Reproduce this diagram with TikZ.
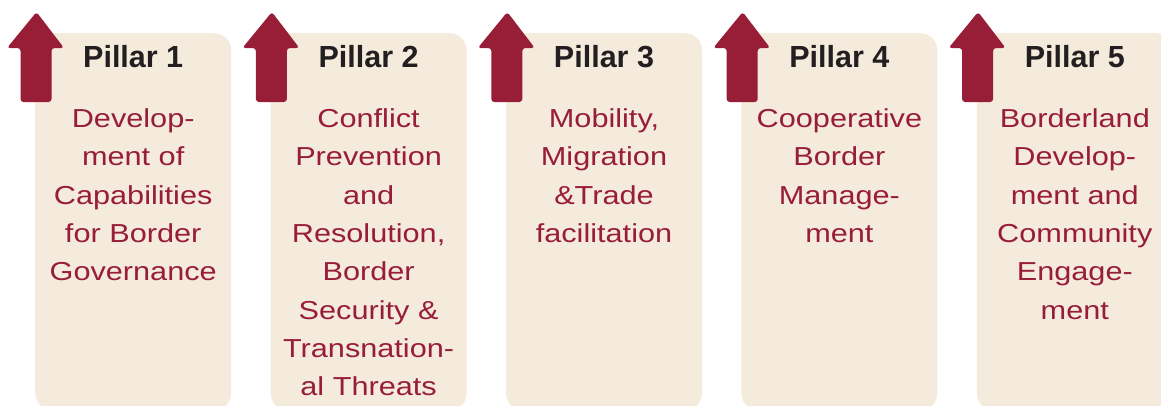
\documentclass[tikz,border=0pt]{standalone}
\usepackage{fontspec}
\setmainfont{Liberation Sans}
\newfontfamily\pillarfont[FakeStretch=1.18]{Liberation Sans}
\usetikzlibrary{positioning}
\definecolor{pillarred}{RGB}{152,29,55}
\definecolor{pillarbeige}{RGB}{245,235,221}
\definecolor{pillardark}{RGB}{35,31,32}

\begin{document}
\begin{tikzpicture}[x=1pt,y=1pt,node distance=39pt,
	pillar/.style={fill=pillarbeige,rounded corners=17pt,minimum width=196pt,minimum height=377pt,inner sep=0pt,anchor=north west},
	title/.style={font=\bfseries\fontsize{30.5}{36}\selectfont,text=pillardark,inner sep=0pt,anchor=base},
	body/.style={font=\pillarfont\fontsize{26}{38.3}\selectfont,text=pillarred,align=center,inner sep=0pt,anchor=north},
	uparrow/.style={fill=pillarred,rounded corners=3pt}]
	\useasboundingbox (0,0) rectangle (1161,-405);
	\node[pillar] (p1) at (35,-33) {};
	\node[pillar,right=of p1] (p2) {};
	\node[pillar,right=of p2] (p3) {};
	\node[pillar,right=of p3] (p4) {};
	\node[pillar,right=of p4] (p5) {};
	\foreach \p in {p1,p2,p3,p4,p5}
		\fill[uparrow,shift={(\p.north west)}] (1.5,21) -- (29,-15) -- (16.5,-15) -- (16.5,-69)
			-- (-14.5,-69) -- (-14.5,-15) -- (-28,-15) -- cycle;
	\node[title] (t1) at ([yshift=-34pt]p1.north) {Pillar 1};
	\node[title] (t2) at ([yshift=-34pt]p2.north) {Pillar 2};
	\node[title] (t3) at ([yshift=-34pt]p3.north) {Pillar 3};
	\node[title] (t4) at ([yshift=-34pt]p4.north) {Pillar 4};
	\node[title] (t5) at ([yshift=-34pt]p5.north) {Pillar 5};
	\node[body] (b1) at ([yshift=-75.5pt]p1.north) {Develop-\\ment of\\Capabilities\\for Border\\Governance};
	\node[body] (b2) at ([yshift=-75.5pt]p2.north) {Conflict\\Prevention\\and\\Resolution,\\Border\\Security \&\\Transnation-\\al Threats};
	\node[body] (b3) at ([yshift=-75.5pt]p3.north) {Mobility,\\Migration\\\&Trade\\facilitation};
	\node[body] (b4) at ([yshift=-75.5pt]p4.north) {Cooperative\\Border\\Manage-\\ment};
	\node[body] (b5) at ([yshift=-75.5pt]p5.north) {Borderland\\Develop-\\ment and\\Community\\Engage-\\ment};
\end{tikzpicture}
\end{document}
